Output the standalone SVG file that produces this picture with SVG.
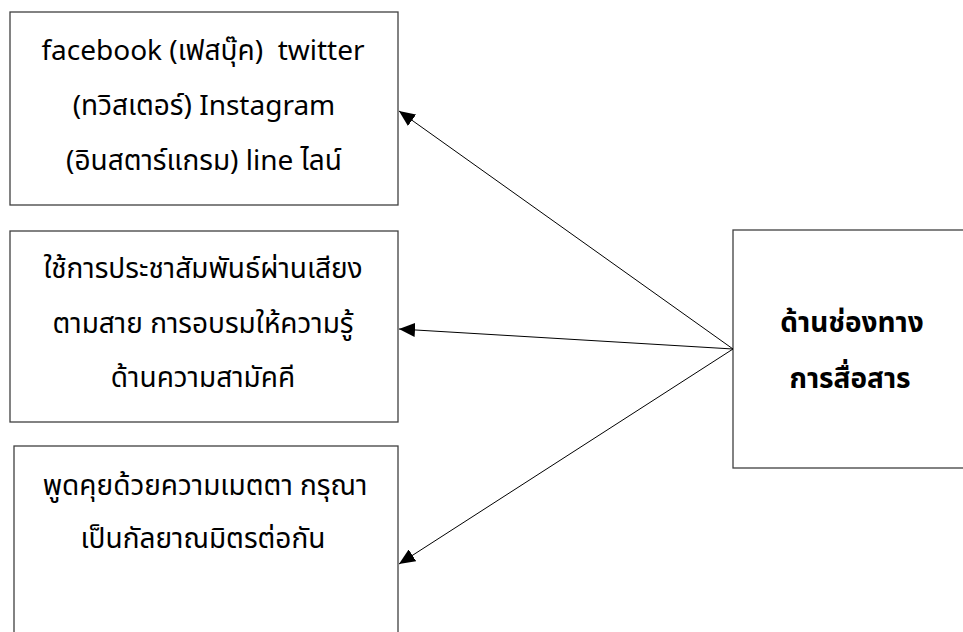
<svg xmlns="http://www.w3.org/2000/svg" width="963" height="632" viewBox="0 0 963 632">
<style>
.box{fill:#fff;stroke:#404040;stroke-width:1.3}
.t{font-family:"Noto Sans Thai","Leelawadee UI","Tahoma","Noto Sans","DejaVu Sans",sans-serif;font-size:28px;fill:#000;text-anchor:middle;white-space:pre}
.b{font-weight:bold}
.c{stroke:#000;stroke-width:1;fill:none;marker-end:url(#ah)}
</style>
<defs>
<marker id="ah" markerWidth="17" markerHeight="14" refX="16" refY="7" orient="auto" markerUnits="userSpaceOnUse">
<path d="M0,0 L16,7 L0,14 Z" fill="#000"/>
</marker>
</defs>
<rect width="963" height="632" fill="#fff"/>
<g id="n1">
<rect class="box" x="10" y="12" width="388" height="193"/>
<text class="t" x="203" y="60" xml:space="preserve">facebook (เฟสบุ๊ค)  twitter</text>
<text class="t" x="204" y="115">(ทวิสเตอร์) Instagram</text>
<text class="t" x="204" y="170">(อินสตาร์แกรม) line ไลน์</text>
</g>
<g id="n2">
<rect class="box" x="10" y="231" width="388" height="191"/>
<text class="t" x="203" y="278">ใช้การประชาสัมพันธ์ผ่านเสียง</text>
<text class="t" x="203" y="333">ตามสาย การอบรมให้ความรู้</text>
<text class="t" x="203" y="387">ด้านความสามัคคี</text>
</g>
<g id="n3">
<rect class="box" x="14" y="446" width="384" height="200"/>
<text class="t" x="205" y="495">พูดคุยด้วยความเมตตา กรุณา</text>
<text class="t" x="203" y="548">เป็นกัลยาณมิตรต่อกัน</text>
</g>
<g id="n4">
<rect class="box" x="733" y="230" width="240" height="238"/>
<text class="t b" x="852" y="332">ด้านช่องทาง</text>
<text class="t b" x="850" y="388">การสื่อสาร</text>
</g>
<g id="connectors">
<line class="c" x1="733" y1="349" x2="399" y2="111"/>
<line class="c" x1="733" y1="349" x2="399" y2="329"/>
<line class="c" x1="733" y1="349" x2="399" y2="564"/>
</g>
</svg>
